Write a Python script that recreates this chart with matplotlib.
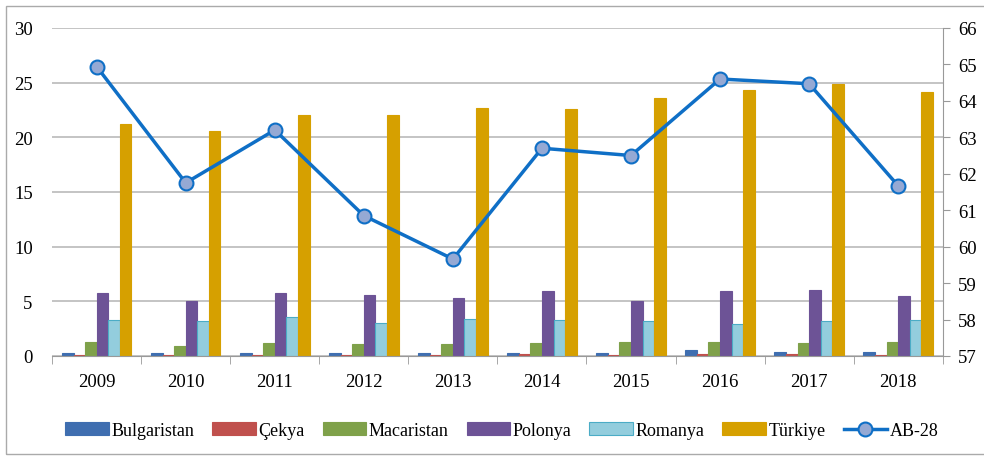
import numpy as np
import matplotlib.pyplot as plt

plt.rcParams["font.family"] = ["Liberation Serif", "DejaVu Serif"]

years = ["2009", "2010", "2011", "2012", "2013", "2014", "2015", "2016", "2017", "2018"]
bulgaristan = [0.3, 0.3, 0.3, 0.3, 0.3, 0.3, 0.3, 0.5, 0.4, 0.4]
cekya = [0.1, 0.1, 0.1, 0.1, 0.1, 0.15, 0.1, 0.2, 0.2, 0.1]
macaristan = [1.3, 0.9, 1.2, 1.1, 1.1, 1.2, 1.3, 1.3, 1.2, 1.3]
polonya = [5.8, 5.0, 5.8, 5.6, 5.3, 5.9, 5.0, 5.9, 6.0, 5.5]
romanya = [3.3, 3.2, 3.6, 3.0, 3.4, 3.3, 3.2, 2.9, 3.2, 3.3]
turkiye = [21.2, 20.6, 22.0, 22.0, 22.7, 22.6, 23.6, 24.3, 24.9, 24.1]
ab28 = [64.94, 61.75, 63.2, 60.85, 59.66, 62.7, 62.5, 64.6, 64.47, 61.67]

series = [
    ("Bulgaristan", bulgaristan, "#3F6EB0", "#3F6EB0"),
    ("Çekya", cekya, "#C0504D", "#C0504D"),
    ("Macaristan", macaristan, "#7FA14A", "#7FA14A"),
    ("Polonya", polonya, "#6D5396", "#6D5396"),
    ("Romanya", romanya, "#93CDDD", "#4BACC6"),
    ("Türkiye", turkiye, "#D6A000", "#D6A000"),
]

fig = plt.figure(figsize=(9.84, 4.6), dpi=100)
ax = fig.add_axes([0.053, 0.224, 0.905, 0.713])
x = np.arange(len(years))
w = 0.13
for i, (name, vals, fc, ec) in enumerate(series):
    ax.bar(x + (i - 2.5) * w, vals, w, color=fc, edgecolor=ec, lw=0.8,
           label=name, zorder=2)

ax.set_xlim(-0.5, len(years) - 0.5)
ax.set_ylim(0, 30)
ax.set_yticks(range(0, 31, 5))
ax.yaxis.grid(True, color="#C4C4C4", lw=1.4, zorder=0)
ax.set_axisbelow(True)
ax.set_xticks(x)
ax.set_xticklabels(years, fontsize=13.5)
ax.tick_params(axis="x", length=0, pad=12)
ax.set_xticks(np.arange(-0.5, len(years)), minor=True)
ax.tick_params(axis="x", which="minor", length=6, color="#999999")
ax.tick_params(axis="y", length=0, labelsize=13.5, pad=14)
for s in ["top", "right", "left"]:
    ax.spines[s].set_visible(False)
ax.spines["bottom"].set_color("#999999")

ax2 = ax.twinx()
ax2.plot(x, ab28, "-o", color="#0F6FC6", lw=2.5, ms=10, mfc="#95A9D4",
         mec="#0F6FC6", mew=1.5, label="AB-28", zorder=3)
ax2.set_ylim(57, 66)
ax2.set_yticks(range(57, 67))
ax2.tick_params(axis="y", labelsize=13.5, length=5, color="#999999", pad=6)
for s in ["top", "left", "bottom"]:
    ax2.spines[s].set_visible(False)
ax2.spines["right"].set_color("#999999")

h1, l1 = ax.get_legend_handles_labels()
h2, l2 = ax2.get_legend_handles_labels()
fig.legend(h1 + h2, l1 + l2, loc="center", bbox_to_anchor=(0.51, 0.062), ncol=7,
           frameon=False, fontsize=13, handlelength=2.4, handletextpad=0.15,
           columnspacing=1.0)

# outer frame; its right edge lies past the image edge as in the source
fig.add_artist(plt.Rectangle((0.006, 0.01), 1.0, 0.975, transform=fig.transFigure,
                             fill=False, ec="#AAAAAA", lw=1))

fig.savefig("out.png", dpi=100)
